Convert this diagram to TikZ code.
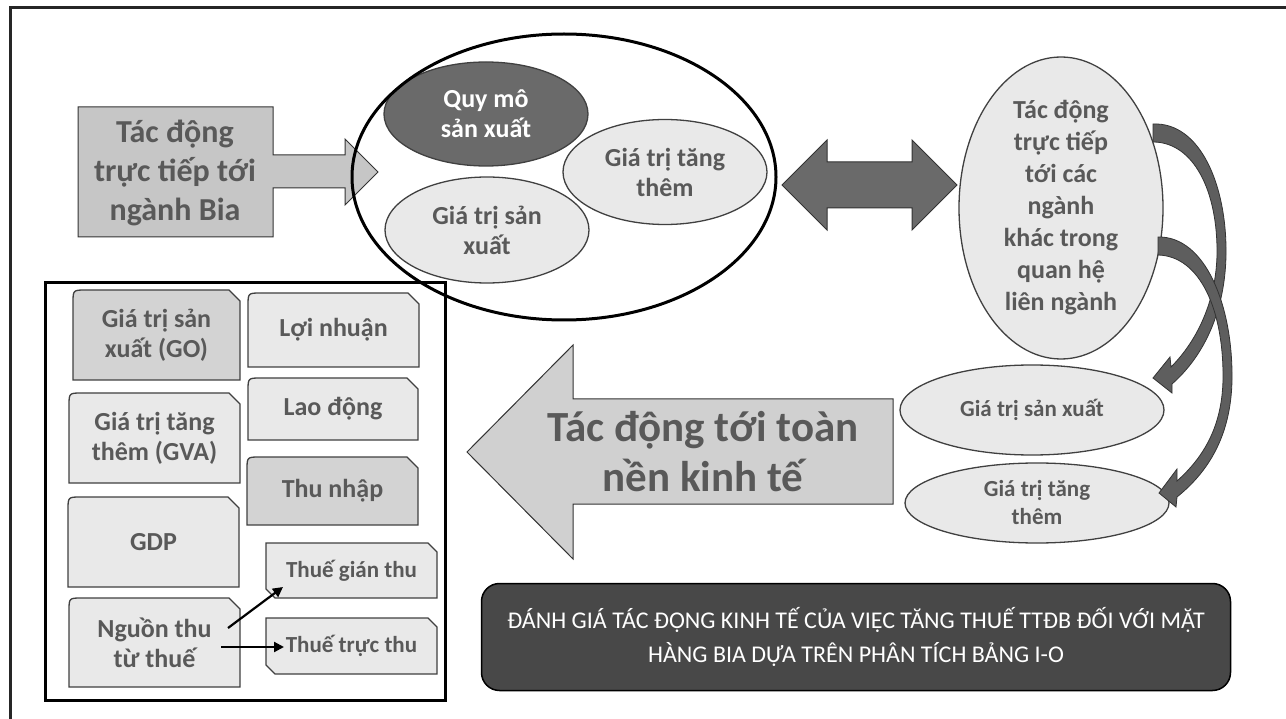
\documentclass[tikz,border=0pt]{standalone}
\usepackage{fontspec}
\setmainfont{Carlito}
\usetikzlibrary{shapes.geometric,arrows.meta}

\definecolor{txtgray}{HTML}{595959}
\definecolor{lightfill}{HTML}{E9E9E9}
\definecolor{midfill}{HTML}{D3D3D3}
\definecolor{darkfill}{HTML}{6A6A6A}
\definecolor{arrowfill}{HTML}{5E5E5E}
\definecolor{biafill}{HTML}{C6C6C6}
\definecolor{econfill}{HTML}{D0D0D0}
\definecolor{titlefill}{HTML}{484848}

\newcommand{\snipbox}[7]{%
  \filldraw[boxline, fill=#6] (#2,#5) -- (#2,#3+13) .. controls (#2,#3) .. (#2+13,#3)
    -- (#4-11,#3) -- (#4,#3+11) -- (#4,#5) -- cycle;
  \node[boxtext] (#1) at ({(#2+#4)/2},{(#3+#5)/2}) {#7};
}
\newcommand{\taxbox}[6]{%
  \filldraw[boxline, fill=lightfill] (#2,#3) -- (#4-9,#3) -- (#4,#3+9) -- (#4,#5)
    -- (#2+9,#5) -- (#2,#5-9) -- cycle;
  \node[boxtext, font=\bfseries\fontsize{23}{28}\selectfont] (#1) at ({(#2+#4)/2},{(#3+#5)/2}) {#6};
}

\begin{document}
\begin{tikzpicture}[x=1pt, y=-1pt,
  boxline/.style={draw=black!75, line width=1.3pt},
  boxtext/.style={align=center, text=txtgray, font=\bfseries\fontsize{26}{30}\selectfont},
  bubble/.style={ellipse, boxline, fill=lightfill, inner sep=0pt, align=center,
    text=txtgray, font=\bfseries\fontsize{26}{30}\selectfont},
  shapeline/.style={draw=black!80, line width=1pt, line join=miter},
  taxarrow/.style={-{Triangle[length=10pt, width=10pt]}, line width=2.2pt}
]
\useasboundingbox (0,0) rectangle (1286,719);
\draw[line width=3pt, black!85] (10,719) -- (10,8) -- (1286,8);

\filldraw[shapeline, fill=biafill] (78,107) -- (273,107) -- (273,155) -- (345,155) -- (345,139)
  -- (378,172) -- (345,205) -- (345,188) -- (273,188) -- (273,237) -- (78,237) -- cycle;
\node[boxtext, font=\bfseries\fontsize{32}{39}\selectfont] (bia) at (175,173) {Tác động\\trực tiếp tới\\ngành Bia};

\node[bubble, fill=darkfill, text=white, minimum width=204pt, minimum height=104pt] (quymo) at (486,114) {Quy mô\\sản xuất};
\node[bubble, minimum width=204pt, minimum height=105pt] (gttt) at (665,172) {Giá trị tăng\\thêm};
\node[bubble, minimum width=204pt, minimum height=106pt] (gtsx) at (487,230) {Giá trị sản\\xuất};
\node[ellipse, draw, line width=3pt, minimum width=424pt, minimum height=286pt] (nganhbia) at (564,177) {};

\filldraw[shapeline, fill=darkfill] (782,185) -- (827,140) -- (827,162) -- (912,162) -- (912,140)
  -- (957,185) -- (912,230) -- (912,208) -- (827,208) -- (827,230) -- cycle;

\node[bubble, minimum width=204pt, minimum height=302pt, inner ysep=-16pt,
  font=\bfseries\fontsize{26}{32}\selectfont] (lienganh) at (1061,208)
  {Tác động\\trực tiếp\\tới các\\ngành\\khác trong\\quan hệ\\liên ngành};
\node[bubble, minimum width=264pt, minimum height=90pt, font=\bfseries\fontsize{23}{28}\selectfont] (gtsxkt) at (1032,410) {Giá trị sản xuất};
\node[bubble, minimum width=264pt, minimum height=80pt, font=\bfseries\fontsize{23}{28}\selectfont] (gtttkt) at (1037,503) {Giá trị tăng\\thêm};

\filldraw[shapeline, fill=arrowfill, line width=0.8pt] (1153,124) .. controls (1200,122) and (1227,185) .. (1226,255)
  .. controls (1225,310) and (1205,355) .. (1172,384) -- (1172,393) -- (1153,378) -- (1170,357) -- (1171,367)
  .. controls (1198,340) and (1216,300) .. (1217,255) .. controls (1218,190) and (1193,142) .. (1153,142) -- cycle;
\filldraw[shapeline, fill=arrowfill, line width=0.8pt] (1158,237) .. controls (1205,236) and (1233,305) .. (1232,380)
  .. controls (1231,430) and (1213,468) .. (1177,497) -- (1176,507) -- (1159,493) -- (1177,469) -- (1177,481)
  .. controls (1205,456) and (1222,425) .. (1223,380) .. controls (1224,310) and (1200,256) .. (1158,255) -- cycle;

\filldraw[shapeline, fill=econfill] (467,452) -- (573,345) -- (573,399) -- (893,399) -- (893,504)
  -- (573,504) -- (573,559) -- cycle;
\node[boxtext, font=\bfseries\fontsize{43}{50}\selectfont] (toankt) at (703,452) {Tác động tới toàn\\nền kinh tế};

\draw[line width=3pt] (45,283) rectangle (445,700);
\snipbox{go}{73}{290}{240}{380}{midfill}{Giá trị sản\\xuất (GO)}
\snipbox{loinhuan}{248}{293}{419}{367}{lightfill}{Lợi nhuận}
\snipbox{gva}{69}{393}{240}{483}{lightfill}{Giá trị tăng\\thêm (GVA)}
\snipbox{laodong}{248}{378}{418}{440}{lightfill}{Lao động}
\snipbox{thunhap}{247}{457}{418}{525}{midfill}{Thu nhập}
\snipbox{gdp}{68}{497}{239}{587}{lightfill}{GDP}
\snipbox{thuethu}{69}{598}{240}{687}{lightfill}{Nguồn thu\\từ thuế}
\taxbox{gianthu}{266}{543}{437}{598}{Thuế gián thu}
\taxbox{tructhu}{266}{618}{437}{674}{Thuế trực thu}

\coordinate (thueA) at (228,628);
\coordinate (thueB) at (221,647);
\coordinate (gianthuin) at (283,587);
\coordinate (tructhuin) at (284,647);
\draw[taxarrow] (thueA) -- (gianthuin);
\draw[taxarrow] (thueB) -- (tructhuin);

\node[rounded corners=18pt, fill=titlefill, draw=black, line width=1.5pt, minimum width=749pt,
  minimum height=107pt, text=white, align=center, font=\fontsize{24}{34}\selectfont] (tieude) at (856,637)
  {ĐÁNH GIÁ TÁC ĐỘNG KINH TẾ CỦA VIỆC TĂNG THUẾ TTĐB ĐỐI VỚI MẶT\\HÀNG BIA DỰA TRÊN PHÂN TÍCH BẢNG I-O};
\end{tikzpicture}
\end{document}
